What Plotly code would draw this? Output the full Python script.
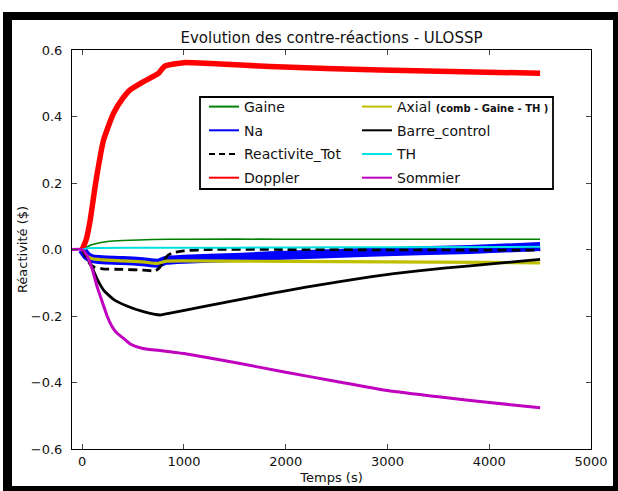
import plotly.graph_objects as go

# ---- data ----
t_gaine = [0, 30, 60, 100, 150, 250, 400, 700, 1000, 2000, 3000, 4500]
v_gaine = [0, 0.005, 0.010, 0.015, 0.019, 0.024, 0.027, 0.030, 0.031, 0.031, 0.031, 0.031]

t_na = [0, 50, 100, 200, 400, 600, 750, 820, 1000, 1500, 1850, 2829, 3811, 4500]
v_na = [0, -0.020, -0.028, -0.031, -0.033, -0.037, -0.041, -0.033, -0.029, -0.024, -0.019, -0.008, 0.000, 0.009]

t_tot = [0, 40, 80, 120, 200, 400, 600, 720, 760, 800, 840, 900, 1000, 1250, 2000, 3000, 4500]
v_tot = [0, -0.025, -0.045, -0.053, -0.058, -0.060, -0.062, -0.064, -0.055, -0.035, -0.018, -0.009, -0.004, 0.000, 0.000, -0.001, -0.002]

t_dop = [0, 40, 79, 137, 210, 308, 400, 471, 603, 750, 790, 815, 900, 1000, 1356, 1847, 2927, 4500]
v_dop = [0, 0.030, 0.089, 0.209, 0.329, 0.410, 0.455, 0.480, 0.505, 0.530, 0.545, 0.552, 0.558, 0.562, 0.558, 0.550, 0.540, 0.530]

t_axial = [0, 50, 100, 200, 400, 600, 730, 830, 1000, 2000, 3000, 4000, 4500]
v_axial = [0, -0.020, -0.028, -0.031, -0.034, -0.037, -0.042, -0.035, -0.034, -0.036, -0.037, -0.039, -0.040]

t_barre = [0, 40, 79, 144, 210, 308, 439, 602, 766, 864, 1189, 1520, 1847, 2200, 2829, 3300, 3811, 4500]
v_barre = [0, -0.020, -0.041, -0.087, -0.122, -0.150, -0.170, -0.187, -0.197, -0.191, -0.172, -0.152, -0.133, -0.113, -0.082, -0.064, -0.049, -0.030]

t_th = [0, 50, 1000, 2000, 3000, 4500]
v_th = [0, 0.004, 0.005, 0.006, 0.007, 0.008]

t_som = [-100, 0, 50, 100, 145, 200, 245, 300, 344, 410, 477, 596, 800, 1000, 1500, 2000, 2500, 3000, 3500, 4000, 4500]
v_som = [0, 0, -0.020, -0.060, -0.110, -0.160, -0.200, -0.235, -0.252, -0.268, -0.285, -0.298, -0.305, -0.313, -0.340, -0.369, -0.397, -0.424, -0.443, -0.460, -0.476]

x_ticks = [0, 1000, 2000, 3000, 4000, 5000]
y_ticks = [-0.6, -0.4, -0.2, 0.0, 0.2, 0.4, 0.6]

FONT = "DejaVu Sans"
W, H = 618, 491
L, R, T, B = 72, 27, 50, 42
PW, PH = W - L - R, H - T - B


def px(x):
    return (x - L) / PW


def py(y):
    return (H - B - y) / PH


series = [
    # name, t, v, color, width, dash, legend
    ("Gaine", t_gaine, v_gaine, "#008000", 1.6, "solid", "legend"),
    ("Na", t_na, v_na, "#0000ff", 9, "solid", "legend"),
    ("Reactivite_Tot", t_tot, v_tot, "#000000", 2.8, "9px,5px", "legend"),
    ("Doppler", t_dop, v_dop, "#ff0000", 5.5, "solid", "legend"),
    ("Axial <b><span style='font-size:10px'>(comb - Gaine - TH )</span></b>", t_axial, v_axial, "#bfbf00", 3.2, "solid", "legend2"),
    ("Barre_control", t_barre, v_barre, "#000000", 2.8, "solid", "legend2"),
    ("TH", t_th, v_th, "#00e0e0", 2, "solid", "legend2"),
    ("Sommier", t_som, v_som, "#bf00bf", 3, "solid", "legend2"),
]

fig = go.Figure()
for name, t, v, col, w, dash, lg in series:
    fig.add_trace(go.Scatter(
        x=t, y=v, mode="lines", showlegend=False,
        line=dict(color=col, width=w, dash=dash, shape="spline", smoothing=0.5),
    ))
# legend entries (thin line samples like the reference)
for i, (name, t, v, col, w, dash, lg) in enumerate(series):
    fig.add_trace(go.Scatter(
        x=[None], y=[None], mode="lines", name=name, legend=lg, legendgroup="g%d" % i,
        line=dict(color=col, width=2, dash="6px,4px" if dash != "solid" else "solid"),
    ))

leg_common = dict(
    bgcolor="rgba(0,0,0,0)", borderwidth=0,
    font=dict(family=FONT, size=14, color="#111"),
    orientation="v", xanchor="left", yanchor="top",
    itemwidth=30, tracegroupgap=2.5,
)

fig.update_layout(
    width=W, height=H,
    margin=dict(l=L, r=R, t=T, b=B, autoexpand=False),
    paper_bgcolor="white", plot_bgcolor="white",
    font=dict(family=FONT, size=13, color="#111"),
    title=dict(text="Evolution des contre-réactions - ULOSSP",
               x=0.5, xref="paper", xanchor="center",
               y=1 - 38 / H, yref="container", yanchor="middle",
               font=dict(family=FONT, size=15, color="#111")),
    xaxis=dict(range=[-100, 5000], tickvals=x_ticks, ticks="inside", ticklen=5,
               mirror="allticks", showline=True, linecolor="#000", linewidth=1,
               showgrid=False, zeroline=False, tickfont=dict(size=13), automargin=False,
               title=dict(text="Temps (s)", standoff=5, font=dict(size=13))),
    yaxis=dict(range=[-0.6, 0.6], tickvals=y_ticks, tickformat=".1f", ticks="inside", ticklen=5,
               mirror="allticks", showline=True, linecolor="#000", linewidth=1,
               showgrid=False, zeroline=False, tickfont=dict(size=13), ticklabelstandoff=6,
               automargin=False,
               title=dict(text="Réactivité ($)", standoff=0, font=dict(size=13))),
    legend=dict(x=px(204), y=py(91), **leg_common),
    legend2=dict(x=px(357), y=py(91), **leg_common),
    showlegend=True,
)

# legend frame and the outer black frame of the picture
shapes = [
    dict(type="rect", xref="paper", yref="paper", x0=px(200), x1=px(553), y0=py(189), y1=py(97),
         line=dict(color="#000", width=1.8), fillcolor="white", layer="above"),
    dict(type="rect", xref="paper", yref="paper", x0=px(3), x1=px(12), y0=py(491), y1=py(12),
         line=dict(width=0), fillcolor="#000", layer="above"),
    dict(type="rect", xref="paper", yref="paper", x0=px(3), x1=px(618), y0=py(20), y1=py(12),
         line=dict(width=0), fillcolor="#000", layer="above"),
    dict(type="rect", xref="paper", yref="paper", x0=px(613), x1=px(618), y0=py(491), y1=py(12),
         line=dict(width=0), fillcolor="#000", layer="above"),
    dict(type="rect", xref="paper", yref="paper", x0=px(3), x1=px(618), y0=py(491), y1=py(486),
         line=dict(width=0), fillcolor="#000", layer="above"),
]
fig.update_layout(shapes=shapes)

fig.write_html("out.html", config={"displayModeBar": False},
               post_script="document.body.style.margin='0';")
